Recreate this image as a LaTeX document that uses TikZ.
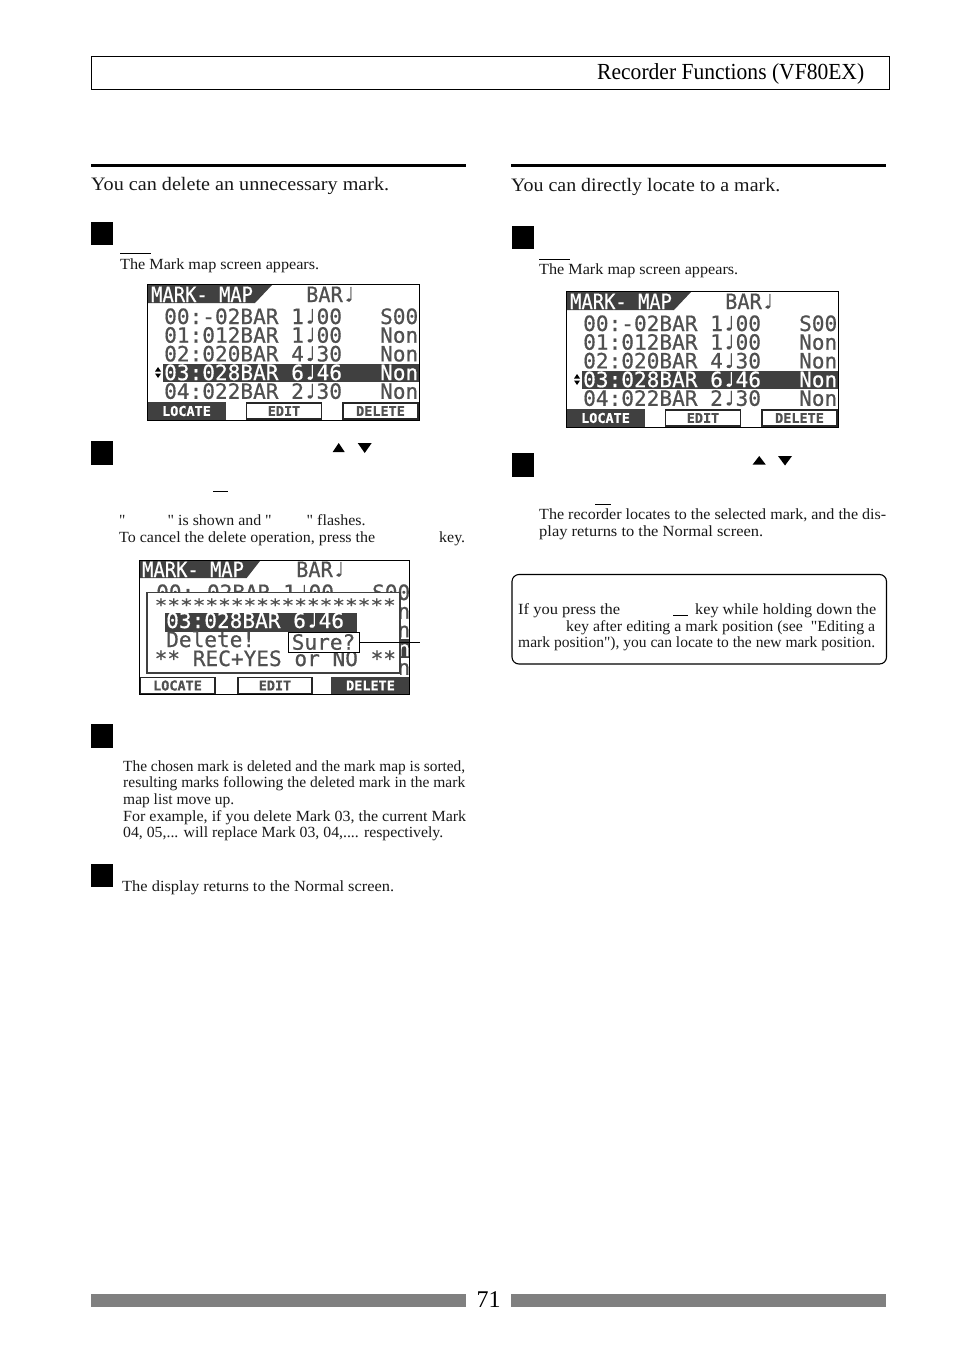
\documentclass[tikz,border=0pt]{standalone}
\usepackage{fontspec}
\setmainfont{Liberation Serif}[Ligatures=TeXOff]
\newfontfamily\lcdfont{DejaVu Sans Mono}[FakeBold=0.6]
\definecolor{lcdink}{HTML}{505050}
\definecolor{lcddark}{HTML}{404040}
\definecolor{barcol}{HTML}{808080}
\tikzset{
  bodytext/.style={anchor=base west,inner sep=0pt,font=\fontsize{15.5}{18}\selectfont,text=black!90},
  bigtext/.style={anchor=base west,inner sep=0pt,font=\fontsize{19}{22}\selectfont,text=black!90},
  lcdtext/.style={anchor=base west,inner sep=0pt,font=\lcdfont\fontsize{21.1}{24}\selectfont,text=lcdink},
  lcdwhite/.style={lcdtext,text=white},
  softkey/.style={draw=black!85,line width=1.3pt,fill=white,minimum height=16pt,inner sep=0pt,
    font=\lcdfont\bfseries\fontsize{13.5}{14}\selectfont,text=lcdink},
  softkeyon/.style={softkey,fill=lcddark,draw=lcddark,text=white},
  stepmark/.style={fill=black,draw=none,minimum width=22pt,inner sep=0pt},
  thickrule/.style={line width=3pt,black},
  keyrule/.style={line width=0.8pt,black},
  footbar/.style={fill=barcol,draw=none},
  updown/.style={fill=black,draw=none},
}
\newcommand\fw[2]{\resizebox{#1pt}{\height}{#2}}
\newcommand\nt{♩}
\newcommand\markrows[3]{%
  \node[lcdtext] (#1r0) at (#2,#3) {00:-02BAR 1\nt00~~~S00};
  \node[lcdtext] (#1r1) at (#2,#3+18.7) {01:012BAR 1\nt00~~~Non};
  \node[lcdtext] (#1r2) at (#2,#3+37.4) {02:020BAR 4\nt30~~~Non};
  \node[lcdwhite] (#1r3) at (#2,#3+56.1) {03:028BAR 6\nt46~~~Non};
  \node[lcdtext] (#1r4) at (#2,#3+74.8) {04:022BAR 2\nt30~~~Non};
}
\newcommand\markscreen[1]{%
  \fill[white] (147.5,284.5) rectangle (419.5,420.5);
  \fill[lcddark] (148,285) -- (272,285) -- (255,303) -- (148,303) -- cycle;
  \node[lcdwhite] (#1title) at (151,302) {\scalebox{0.89}[1]{MARK- MAP}};
  \node[lcdtext] (#1bar) at (306,302) {\scalebox{0.96}[1]{BAR\nt}};
  \fill[lcddark] (163,363.5) rectangle (419,382);
  \begin{scope}
    \clip (147.5,284.5) rectangle (419.5,420.5);
    \markrows{#1}{164}{324}
  \end{scope}
  \path[updown] (155,371.5) -- (161,371.5) -- (158,367) -- cycle;
  \path[updown] (155,373.5) -- (161,373.5) -- (158,378) -- cycle;
  \node[softkeyon,minimum width=77pt] (#1loc) at (186.5,411) {LOCATE};
  \node[softkey,minimum width=75pt] (#1edit) at (284,411) {EDIT};
  \node[softkey,minimum width=75pt] (#1del) at (380.5,411) {DELETE};
  \draw[black,line width=1.2pt] (147.5,284.5) rectangle (419.5,420.5);
}
\begin{document}
\begin{tikzpicture}[x=1pt,y=-1pt]
\useasboundingbox (0,0) rectangle (954,1351);
\fill[white] (0,0) rectangle (954,1351);
% header
\draw[black,line width=0.9pt] (91.5,56.5) rectangle (889.5,89.5);
\node[bigtext,font=\fontsize{23}{26}\selectfont,text=black] (head) at (597,80) {\fw{267}{Recorder Functions (VF80EX)}};
% rules
\draw[thickrule] (91,165.5) -- (466,165.5);
\draw[thickrule] (511,165.5) -- (886,165.5);
% left column
\node[bigtext] (lintro) at (91,190) {\fw{298}{You can delete an unnecessary mark.}};
\node[stepmark,minimum height=23pt] (ls1) at (102,233.5) {};
\draw[keyrule] (120,253.5) -- (151,253.5);
\node[bodytext] (lt1) at (120,269) {\fw{199}{The Mark map screen appears.}};
\markscreen{a}
\node[stepmark,minimum height=24pt] (ls2) at (102,453) {};
\path[updown] (332.7,452) -- (344.7,452) -- (338.7,443) -- cycle;
\path[updown] (357.7,443) -- (371.7,443) -- (364.7,453) -- cycle;
\draw[keyrule] (213,491.5) -- (228,491.5);
\node[bodytext] (lq1) at (119,525) {"};
\node[bodytext] (lq2) at (167.5,525) {\fw{104}{" is shown and "}};
\node[bodytext] (lq3) at (306.5,525) {\fw{59}{" flashes.}};
\node[bodytext] (lc1) at (119,542) {\fw{256}{To cancel the delete operation, press the}};
\node[bodytext] (lc2) at (439,542) {\fw{26}{key.}};
% confirmation screen
\begin{scope}
  \clip (139.5,560.5) rectangle (409.5,694.5);
  \fill[white] (139.5,560.5) rectangle (409.5,694.5);
  \fill[lcddark] (140,561) -- (260,561) -- (246.7,578) -- (140,578) -- cycle;
  \node[lcdwhite] (btitle) at (142,577) {\scalebox{0.89}[1]{MARK- MAP}};
  \node[lcdtext] (bbar) at (296,577) {\scalebox{0.96}[1]{BAR\nt}};
  \fill[lcddark] (155,639) rectangle (410,658);
  \markrows{b}{156}{600}
  \draw[lcddark,line width=1.8pt,fill=white] (147,592.5) rectangle (400,673);
  \fill[white] (140,674) rectangle (400,695);
  \fill[white] (400,677) rectangle (410,695);
  \node[lcdtext] (bstars) at (154.5,611) {\fontsize{17}{20}\selectfont\scalebox{1.24}[1]{*******************}};
  \fill[lcddark] (165,613) rectangle (357,631.5);
  \node[lcdwhite] (bsel) at (166,628) {03:028BAR 6\nt46};
  \node[lcdtext] (bdel) at (166,647) {Delete!};
  \node[lcdtext] (brec) at (154.5,666) {** REC+YES or NO **};
  \node[softkey,minimum width=75pt] (bloc) at (177.5,685.5) {LOCATE};
  \node[softkey,minimum width=74pt] (bedit) at (275,685.5) {EDIT};
  \node[softkeyon,minimum width=77pt] (bdele) at (370.5,685.5) {DELETE};
\end{scope}
\draw[black,line width=1.2pt] (139.5,560.5) rectangle (409.5,694.5);
\node[draw=black,line width=1pt,fill=white,minimum width=71pt,minimum height=20pt,inner sep=0pt,
  font=\lcdfont\fontsize{21.1}{24}\selectfont,text=lcdink] (sure) at (323.5,642) {Sure?};
\coordinate (surelead) at (420,642);
\draw[black,line width=0.9pt] (sure.east) -- (surelead);
\node[stepmark,minimum height=24pt] (ls3) at (102,736) {};
\node[bodytext] (lb1) at (123,771) {\fw{342}{The chosen mark is deleted and the mark map is sorted,}};
\node[bodytext] (lb2) at (123,787.5) {\fw{342}{resulting marks following the deleted mark in the mark}};
\node[bodytext] (lb3) at (123,804) {\fw{111}{map list move up.}};
\node[bodytext] (lb4) at (123,821) {\fw{343}{For example, if you delete Mark 03, the current Mark}};
\node[bodytext] (lb5) at (123,837) {\fw{320}{04, 05,... will replace Mark 03, 04,.... respectively.}};
\node[stepmark,minimum height=23pt] (ls4) at (102,875.5) {};
\node[bodytext] (lb6) at (122,891) {\fw{272}{The display returns to the Normal screen.}};
% right column
\node[bigtext] (rintro) at (511,192) {\fw{269}{You can directly locate to a mark.}};
\node[stepmark,minimum height=23pt] (rs1) at (523,237.5) {};
\draw[keyrule] (539,259) -- (570,259);
\node[bodytext] (rt1) at (539,274) {\fw{199}{The Mark map screen appears.}};
\begin{scope}[shift={(419,7)}]
  \markscreen{c}
\end{scope}
\node[stepmark,minimum height=24pt] (rs2) at (523,465) {};
\path[updown] (752.7,464.5) -- (765.7,464.5) -- (759.2,456) -- cycle;
\path[updown] (778,456) -- (792,456) -- (785,465.5) -- cycle;
\draw[keyrule] (595,504) -- (611,504);
\node[bodytext] (rb1) at (539,519) {\fw{347}{The recorder locates to the selected mark, and the dis-}};
\node[bodytext] (rb2) at (539,536) {\fw{224}{play returns to the Normal screen.}};
\draw[black,line width=1.1pt,rounded corners=7pt] (512,574.5) rectangle (886.5,664);
\node[bodytext] (nt1) at (518,614) {\fw{102}{If you press the}};
\draw[keyrule] (673,615) -- (688,615);
\node[bodytext] (nt2) at (695,614) {\fw{181}{key while holding down the}};
\node[bodytext] (nt3) at (566,631) {\fw{309}{key after editing a mark position (see\ \ "Editing a}};
\node[bodytext] (nt4) at (518,647) {\fw{357}{mark position"), you can locate to the new mark position.}};
% footer
\fill[footbar] (91,1294) rectangle (466,1307);
\fill[footbar] (511,1294) rectangle (886,1307);
\node[anchor=center,inner sep=0pt,font=\fontsize{24}{26}\selectfont] (pagenum) at (488.5,1299.5) {71};
\end{tikzpicture}
\end{document}
